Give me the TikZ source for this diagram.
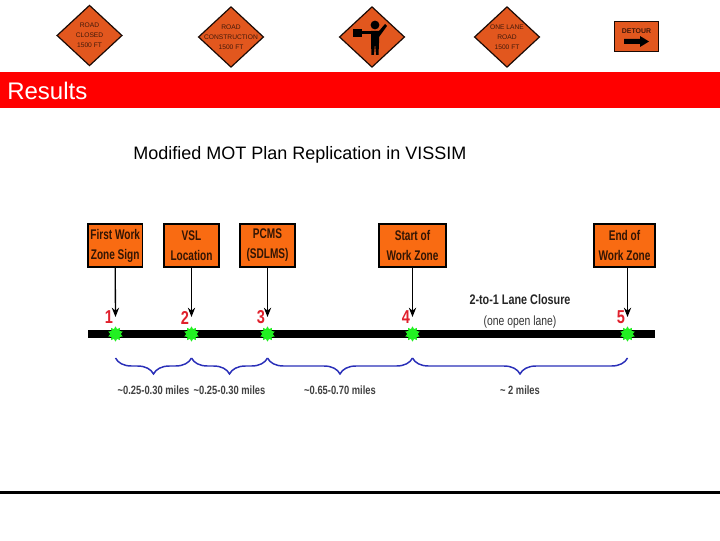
\documentclass[tikz,border=0pt]{standalone}
\usepackage{fontspec}
\setmainfont{Liberation Sans}
\newfontfamily\narrowf[FakeStretch=0.78]{Liberation Sans}
\newfontfamily\tightf[FakeStretch=0.72]{Liberation Sans}
\usepackage{xcolor}
\usepackage{tikz}
\usetikzlibrary{arrows.meta,positioning,shapes.geometric,decorations.pathreplacing}
\definecolor{signc}{HTML}{E2571E}
\definecolor{boxc}{HTML}{F96B12}
\definecolor{barc}{HTML}{FF0000}
\definecolor{deepc}{HTML}{1A0A05}
\definecolor{bracec}{HTML}{2A2FB8}
\definecolor{starc}{HTML}{22F022}
\definecolor{numc}{HTML}{E0202C}
\newcommand{\nowd}[1]{\makebox[0pt]{#1}}
\tikzset{
  road/.style={diamond,draw=deepc,line width=0.9pt,fill=signc,inner sep=0pt,minimum width=49pt,minimum height=45.5pt,align=center,font=\fontsize{5}{7.5}\selectfont,text=deepc!80!signc},
  zone/.style={draw=black,line width=1.3pt,fill=boxc,align=center,inner sep=0pt,minimum height=32pt,font=\tightf\fontsize{10.5}{15}\selectfont\bfseries,text=black!80!boxc},
  ar/.style={-{Stealth[length=7pt,width=5.5pt]},line width=1pt,black},
  num/.style={font=\narrowf\fontsize{14}{14}\selectfont\bfseries,text=numc},
  marker/.style={star,star points=10,star point ratio=1.5,fill=starc,inner sep=0pt,minimum size=11.5pt},
  curly/.style={decorate,decoration={brace,mirror,amplitude=12pt},bracec,line width=1.1pt},
  span/.style={font=\narrowf\fontsize{9}{9}\selectfont\bfseries,text=black!75}
}
\begin{document}
\begin{tikzpicture}[x=0.75pt,y=0.75pt]
\useasboundingbox (0,0) rectangle (720,540);
% signs along the top
\node[road] (closed) at (89.5,504.5) {\nowd{ROAD}\\\nowd{CLOSED}\\\nowd{1500 FT}};
\node[road] (constr) at (231,503) {\nowd{ROAD}\\\nowd{CONSTRUCTION}\\\nowd{1500 FT}};
\node[road] (flag) at (372,503) {};
\node[road] (lane) at (507,503) {\nowd{ONE LANE}\\\nowd{ROAD}\\\nowd{1500 FT}};
\node[draw=deepc,line width=0.9pt,fill=signc,minimum width=33pt,minimum height=23pt] (detour) at (636.5,503.5) {};
\node[font=\fontsize{5.2}{5.2}\selectfont\bfseries,text=deepc!80!signc,below=2.5pt of detour.north] (detourtxt) {DETOUR};
\fill[black] (624,501)--(640,501)--(640,504)--(649,498.5)--(640,493)--(640,496)--(624,496)--cycle;
% flagger
\fill[black] (375,515) circle (4.4);
\fill[black] (371,509)--(379,509)--(379,497)--(378.5,485)--(376,485)--(375,497)--(374,485)--(371.5,485)--(371,497)--cycle;
\fill[black] (353,511) rectangle (362,503);
\fill[black] (362,509) rectangle (371,506);
\fill[black] (379,509)--(385,516)--(387,514)--(379,503)--cycle;
% title bar
\fill[barc] (0,432) rectangle (720,468);
\node[anchor=west,inner sep=0pt,font=\fontsize{18}{18}\selectfont,text=white] (results) at (7,449.5) {Results};
\node[anchor=west,inner sep=0pt,font=\fontsize{13.5}{13.5}\selectfont] (title) at (133,385) {Modified MOT Plan Replication in VISSIM};
% road
\fill[black] (88,202) rectangle (655,210);
\foreach \nm/\px [count=\i] in {a/115.5,b/191.5,c/267.5,d/412.5,e/627.5}{
  \node[marker] (m\nm) at (\px,206) {};
  \coordinate (t\nm) at (\px,223);
  \node[num] (n\nm) at (\px-6.5,222.5) {\i};
}
\node[zone,minimum width=41pt] (za) at (115.2,294.5) {First Work\\Zone Sign};
\node[zone,minimum width=41pt] (zb) at (191.5,294.5) {VSL\\Location};
\node[zone,minimum width=41pt] (zc) at (267.5,294.5) {PCMS\\(SDLMS)};
\node[zone,minimum width=50pt] (zd) at (412.5,294.5) {Start of\\Work Zone};
\node[zone,minimum width=45.5pt] (ze) at (624.5,294.5) {End of\\Work Zone};
\draw[ar] (za.south) -- (ta);
\draw[ar] (zb.south) -- (tb);
\draw[ar] (zc.south) -- (tc);
\draw[ar] (zd.south) -- (td);
\draw[ar] (te|-ze.south) -- (te);
\node[font=\narrowf\fontsize{10.4}{10.4}\selectfont\bfseries,text=black!85] (closure) at (520,240.5) {2-to-1 Lane Closure};
\node[font=\narrowf\fontsize{10}{10}\selectfont,text=black!80] (open) at (520,217.5) {(one open lane)};
% braces under the road
\coordinate (ba) at (115.5,182);
\coordinate (bb) at (191.5,182);
\coordinate (bc) at (267.5,182);
\coordinate (bd) at (412.5,182);
\coordinate (be) at (627.5,182);
\draw[curly] (ba) -- (bb);
\draw[curly] (bb) -- (bc);
\draw[curly] (bc) -- (bd);
\draw[curly] (bd) -- (be);
\node[span] (sa) at (153.5,150) {\textasciitilde0.25-0.30 miles};
\node[span] (sb) at (229.5,150) {\textasciitilde0.25-0.30 miles};
\node[span] (sc) at (340,150) {\textasciitilde0.65-0.70 miles};
\node[span] (sd) at (520,150) {\textasciitilde\ 2 miles};
% rule at the bottom
\fill[black] (0,46.5) rectangle (720,49.5);
\end{tikzpicture}
\end{document}
